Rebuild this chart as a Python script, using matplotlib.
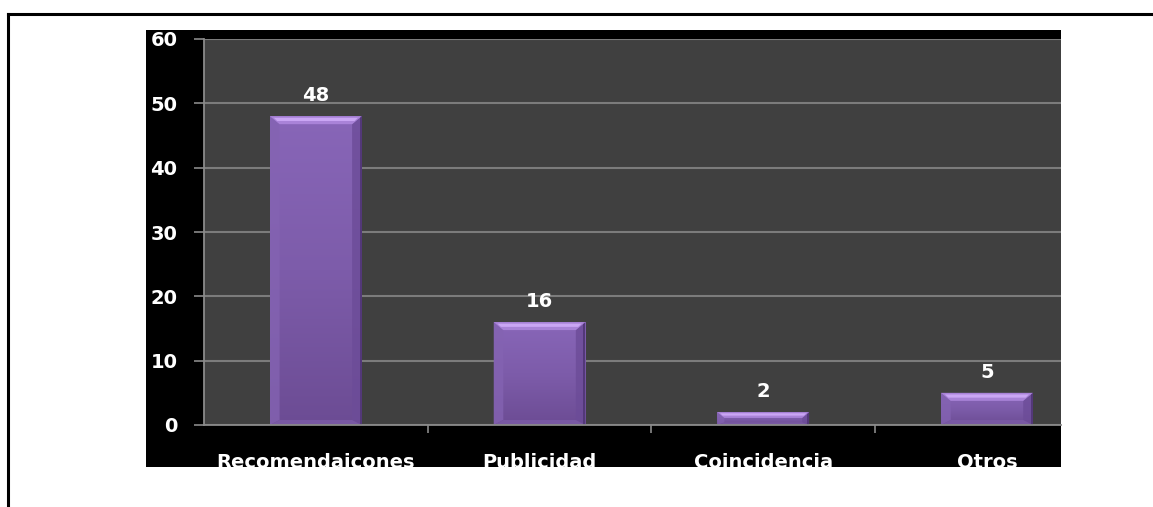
import numpy as np
import matplotlib
matplotlib.use("Agg")
import matplotlib.pyplot as plt
from matplotlib.patches import Rectangle, Polygon
from matplotlib.lines import Line2D
from matplotlib.transforms import Bbox, TransformedBbox
from matplotlib.colors import LinearSegmentedColormap

# Data
categories = ["Recomendaicones", "Publicidad", "Coincidencia", "Otros"]
values = [48, 16, 2, 5]
y_ticks = [0, 10, 20, 30, 40, 50, 60]

W, H, DPI = 1153, 507, 100
fig = plt.figure(figsize=(W / DPI, H / DPI), dpi=DPI)
fig.patch.set_facecolor("white")

FONT = "DejaVu Sans"
WEIGHT = "bold"

# Black chart panel
panel = Rectangle((146 / W, 1 - 467 / H), (1061 - 146) / W, (467 - 30) / H,
                  transform=fig.transFigure, facecolor="black",
                  edgecolor="none", zorder=-5)
fig.patches.append(panel)

# Page frame (top and left rules)
fig.lines.append(Line2D([8 / W, 1.0], [1 - 14 / H, 1 - 14 / H],
                        transform=fig.transFigure, color="black", lw=2.2))
fig.lines.append(Line2D([8 / W, 8 / W], [1 - 14 / H, 0.0],
                        transform=fig.transFigure, color="black", lw=2.2))

ax = fig.add_axes([204 / W, 1 - 425 / H, (1061 - 204) / W, (425 - 39) / H])
ax.set_zorder(2)
ax.set_facecolor("#404040")

for s in ("top", "right"):
    ax.spines[s].set_visible(False)
for s in ("left", "bottom"):
    ax.spines[s].set_color("#8a8a8a")
    ax.spines[s].set_linewidth(1.3)

x = np.arange(len(categories))
bar_w = 0.41
bars = ax.bar(x, values, width=bar_w, color="#7a58a6", edgecolor="none",
              zorder=2)

# Visible range: the panel cuts the last category short on the right
cat_px = 223.7
xlim = (-0.5, -0.5 + (1061 - 204) / cat_px)
ylim = (0, 60)

# Bevelled purple shading, built from each bar's own geometry
px_x = (xlim[1] - xlim[0]) / (1061 - 204)
px_y = (ylim[1] - ylim[0]) / (425 - 39)
body_cmap = LinearSegmentedColormap.from_list(
    "body", ["#8866b8", "#7d5caa", "#6c4c94"])
grad = np.linspace(0, 1, 256).reshape(-1, 1)

for b in bars:
    x0, w, h = b.get_x(), b.get_width(), b.get_height()
    x1 = x0 + w
    im = ax.imshow(grad, cmap=body_cmap, aspect="auto",
                   extent=(x0, x1, 0, h), origin="upper", zorder=2.1,
                   interpolation="bilinear")
    im.set_clip_path(b)
    d = min(8, h / px_y * 0.45)
    dy = d * px_y
    dx = min(10, d * 1.2) * px_x
    by = min(5, h / px_y * 0.2) * px_y
    # top bevel
    ax.add_patch(Polygon([(x0, h), (x1, h), (x1 - dx, h - dy), (x0 + dx, h - dy)],
                         closed=True, facecolor="#a983d8", edgecolor="none",
                         zorder=2.3))
    ax.add_patch(Polygon([(x0 + dx * 0.4, h - dy * 0.2), (x1 - dx * 0.4, h - dy * 0.2),
                          (x1 - dx * 0.75, h - dy * 0.6), (x0 + dx * 0.75, h - dy * 0.6)],
                         closed=True, facecolor="#caa6f4", edgecolor="none",
                         zorder=2.35))
    # left bevel
    ax.add_patch(Polygon([(x0, 0), (x0, h), (x0 + dx, h - dy), (x0 + dx, by)],
                         closed=True, facecolor="#8463b2", edgecolor="none",
                         zorder=2.2, alpha=0.8))
    # right bevel
    ax.add_patch(Polygon([(x1, 0), (x1, h), (x1 - dx, h - dy), (x1 - dx, by)],
                         closed=True, facecolor="#6c4c98", edgecolor="none",
                         zorder=2.2, alpha=0.8))
    ax.add_patch(Polygon([(x1 - 2 * px_x, 0), (x1, 0), (x1, h), (x1 - 2 * px_x, h)],
                         closed=True, facecolor="#533879", edgecolor="none",
                         zorder=2.25))
    # bottom bevel
    ax.add_patch(Polygon([(x0, 0), (x1, 0), (x1 - dx, by), (x0 + dx, by)],
                         closed=True, facecolor="#7959a4", edgecolor="none",
                         zorder=2.2))
    ax.annotate(f"{h:g}", (b.get_x() + w / 2, h), xytext=(0, 11),
                textcoords="offset points", ha="center", va="baseline",
                color="white", fontsize=14, fontfamily=FONT,
                fontweight=WEIGHT, zorder=4)

ax.set_yticks(y_ticks)
ax.set_yticklabels([str(t) for t in y_ticks])
ax.yaxis.grid(True, color="#7c7c7c", linewidth=1.5)
ax.set_axisbelow(True)
ax.tick_params(axis="y", length=7.2, width=1.2, color="#8a8a8a", pad=12,
               labelcolor="white", labelsize=14)

ax.set_xticks(x)
ax.set_xticklabels(categories)
ax.set_xticks(x[:-1] + 0.5, minor=True)
ax.tick_params(axis="x", which="major", length=0, pad=20,
               labelcolor="white", labelsize=14)
ax.tick_params(axis="x", which="minor", length=5.8, width=1.2,
               color="#8a8a8a", direction="out")

ax.set_xlim(*xlim)
ax.set_ylim(*ylim)

for lbl in ax.get_xticklabels() + ax.get_yticklabels():
    lbl.set_fontfamily(FONT)
    lbl.set_fontweight(WEIGHT)

# Clip category labels to the black panel
clip = TransformedBbox(Bbox([[146 / W, 1 - 467 / H], [1061 / W, 1 - 30 / H]]),
                       fig.transFigure)
for lbl in ax.get_xticklabels():
    lbl.set_clip_box(clip)
    lbl.set_clip_on(True)

fig.savefig("out.png", dpi=DPI, facecolor=fig.get_facecolor())
